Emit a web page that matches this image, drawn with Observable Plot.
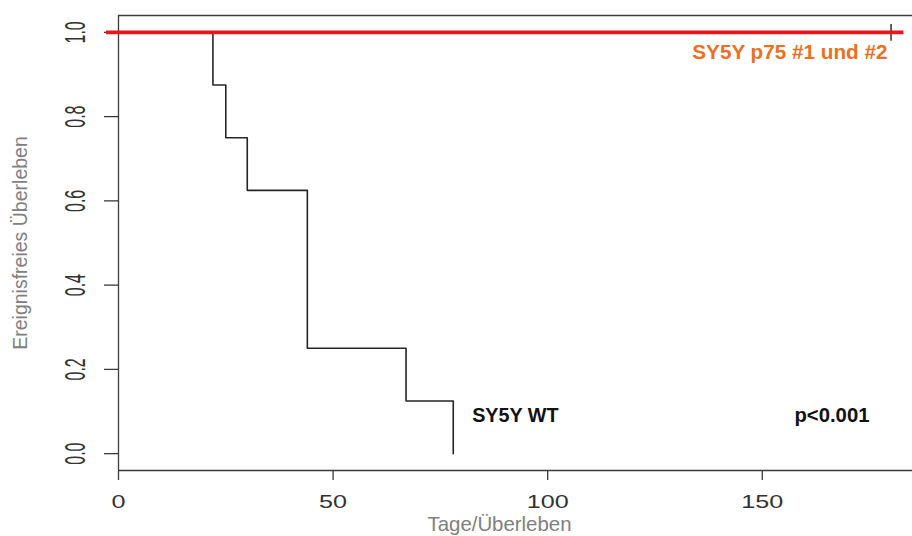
<!DOCTYPE html>
<html><head><meta charset="utf-8">
<script src="https://cdn.jsdelivr.net/npm/d3@7"></script>
<script src="https://cdn.jsdelivr.net/npm/@observablehq/plot@0.6"></script>
<style>body{margin:0;background:#fff}</style>
</head><body><div id="chart"></div>
<script>
// Kaplan-Meier data
const wtTimes = [0, 22, 25, 30, 44, 67, 78];
const wtSurv = [1, 0.875, 0.75, 0.625, 0.25, 0.125, 0];
const p75Times = [0, 180];
const p75Surv = [1, 1];
const censorTimes = [180];
const censorSurv = [1];
const overlayStart = [-2.8];
const overlayEnd = [183];
const xTicks = [0, 50, 100, 150];
const yTicks = [0, 0.2, 0.4, 0.6, 0.8, 1.0];
const yTickLabels = ["0.0", "0.2", "0.4", "0.6", "0.8", "1.0"];
const xDomain = [0, 185];
const yDomain = [-0.04, 1.04];
const labelWT = ["SY5Y WT"];
const labelWTPos = [[82.4, 0.09]];
const labelP = ["p<0.001"];
const labelPPos = [[157.5, 0.09]];
const labelP75 = ["SY5Y p75 #1 und #2"];
const labelP75Pos = [[133.7, 0.953]];
const xTitle = "Tage/Überleben";
const yTitle = "Ereignisfreies Überleben";

const wt = wtTimes.map((t, i) => ({t, s: wtSurv[i]}));
const p75 = p75Times.map((t, i) => ({t, s: p75Surv[i]}));
const cens = censorTimes.map((t, i) => ({t, s: censorSurv[i]}));
const yLab = yTicks.map((v, i) => ({v, label: yTickLabels[i]}));

const boxColor = "#3a3a3a";
const plot = Plot.plot({
  width: 912,
  height: 536,
  marginLeft: 118,
  marginRight: 0,
  marginTop: 15,
  marginBottom: 66,
  style: {fontFamily: "'Liberation Sans', Arial, sans-serif", background: "#fff"},
  x: {domain: xDomain, axis: null},
  y: {domain: yDomain, axis: null},
  marks: [
    // box (top, bottom, left)
    Plot.ruleY(yDomain, {stroke: boxColor, strokeWidth: 1.3}),
    Plot.ruleX([xDomain[0]], {y1: yDomain[0], y2: yDomain[1], stroke: boxColor, strokeWidth: 1.3}),
    // x axis ticks + labels
    Plot.axisX(xTicks, {tickSize: 10, tickPadding: 15, fontSize: 18, stroke: boxColor, strokeWidth: 1.3, fill: "#333", label: null, tickFormat: d => String(d)}),
    // y axis ticks
    Plot.axisY(yTicks, {tickSize: 14, stroke: boxColor, strokeWidth: 1.3, tickFormat: () => "", label: null}),
    Plot.text(yLab, {frameAnchor: "left", y: "v", text: "label", dx: -42.5, rotate: -90, textAnchor: "middle", lineAnchor: "middle", fontSize: 16, fill: "#333"}),
    // axis titles
    Plot.text([yTitle], {frameAnchor: "left", text: d => d, dx: -98, rotate: -90, textAnchor: "middle", lineAnchor: "middle", fontSize: 19.5, fill: "#808080"}),
    Plot.text([xTitle], {frameAnchor: "bottom", text: d => d, dx: -16, dy: 54, textAnchor: "middle", lineAnchor: "middle", fontSize: 20.4, fill: "#808080"}),
    // curves
    Plot.line(p75, {x: "t", y: "s", curve: "step-after", stroke: "#222", strokeWidth: 1.6}),
    Plot.line(wt, {x: "t", y: "s", curve: "step-after", stroke: "#262626", strokeWidth: 1.6}),
    Plot.dot(cens, {x: "t", y: "s", symbol: "plus", r: 5.5, stroke: "#222", strokeWidth: 1.4}),
    // red overlay
    Plot.ruleY(censorSurv, {x1: overlayStart[0], x2: overlayEnd[0], stroke: "#e5161d", strokeWidth: 3.6}),
    // annotations
    Plot.text(labelWT, {x: (d, i) => labelWTPos[i][0], y: (d, i) => labelWTPos[i][1], text: d => d, textAnchor: "start", fontSize: 19.8, fontWeight: "bold", fill: "#111"}),
    Plot.text(labelP, {x: (d, i) => labelPPos[i][0], y: (d, i) => labelPPos[i][1], text: d => d, textAnchor: "start", fontSize: 20.3, fontWeight: "bold", fill: "#111"}),
    Plot.text(labelP75, {x: (d, i) => labelP75Pos[i][0], y: (d, i) => labelP75Pos[i][1], text: d => d, textAnchor: "start", fontSize: 20.7, fontWeight: "bold", fill: "#ec6f22"})
  ]
});

// stretch text glyphs like the (horizontally stretched) reference image
function stretch(texts, sx, sy) {
  texts.forEach(t => {
    const tr = t.getAttribute("transform") || "";
    t.setAttribute("transform", `${tr} scale(${sx},${sy})`);
  });
}
stretch(Array.from(plot.querySelectorAll('g[aria-label="x-axis tick label"] text')), 1.4, 1);
stretch(Array.from(plot.querySelectorAll("text")).filter(t => yTickLabels.includes(t.textContent) && /rotate/.test(t.getAttribute("transform") || "")), 1, 1.85);

document.getElementById("chart").appendChild(plot);
</script>
</body></html>
